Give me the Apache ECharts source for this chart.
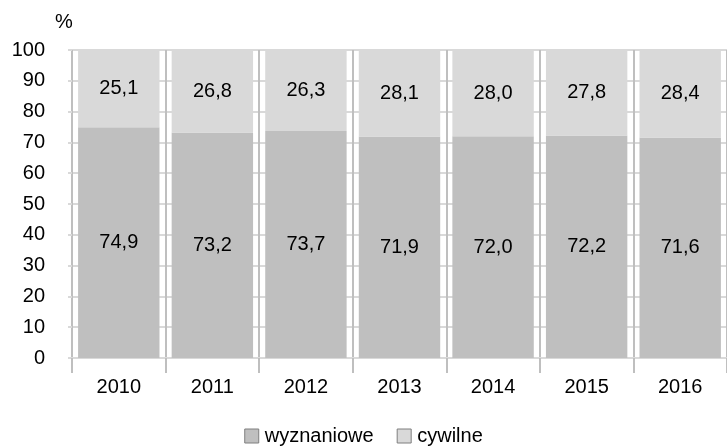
<!DOCTYPE html>
<html>
<head>
<meta charset="utf-8">
<script src="https://cdn.jsdelivr.net/npm/echarts@6/dist/echarts.min.js"></script>
<style>
  html, body { margin: 0; padding: 0; background: #ffffff; }
  #chart { width: 727px; height: 446px; }
</style>
</head>
<body>
<div id="chart"></div>
<script>
// Years shown along the category axis
var years = ['2010', '2011', '2012', '2013', '2014', '2015', '2016'];
// Share of marriages by type of ceremony, in percent
var wyznaniowe = [74.9, 73.2, 73.7, 71.9, 72.0, 72.2, 71.6];
var cywilne = [25.1, 26.8, 26.3, 28.1, 28.0, 27.8, 28.4];
// Value axis ticks
var yMin = 0, yMax = 100, yStep = 10;

var FONT = 'Liberation Sans, Arial, sans-serif';
var FS = 20;
var fmt = function (p) { return p.value.toFixed(1).replace('.', ','); };

var chart = echarts.init(document.getElementById('chart'), null, { renderer: 'canvas' });
chart.setOption({
  animation: false,
  backgroundColor: '#ffffff',
  textStyle: { fontFamily: FONT, color: '#000' },
  grid: { left: 72, top: 50, width: 664, height: 308 },
  legend: {
    top: 426,
    left: 'center',
    padding: 0,
    icon: 'rect',
    itemWidth: 14,
    itemHeight: 14,
    itemGap: 23,
    textStyle: { fontFamily: FONT, fontSize: FS, color: '#000', padding: [0, 0, 0, 1] },
    data: [
      { name: 'wyznaniowe', itemStyle: { borderColor: '#7f7f7f', borderWidth: 1 } },
      { name: 'cywilne', itemStyle: { borderColor: '#7f7f7f', borderWidth: 1 } }
    ]
  },
  graphic: [{
    type: 'text', left: 55, top: 12,
    style: { text: '%', font: FS + 'px ' + FONT, fill: '#000' }
  }],
  xAxis: {
    type: 'category',
    data: years,
    axisLine: { show: true, lineStyle: { color: '#d9d9d9', width: 2 } },
    axisTick: { show: true, length: 15, lineStyle: { color: '#bfbfbf', width: 2 } },
    splitLine: { show: true, lineStyle: { color: '#bfbfbf', width: 2 } },
    axisLabel: { fontFamily: FONT, fontSize: FS, color: '#000', margin: 19 }
  },
  yAxis: {
    type: 'value',
    min: yMin, max: yMax, interval: yStep,
    axisLine: { show: false },
    axisTick: { show: true, inside: false, length: 4, lineStyle: { color: '#d9d9d9', width: 2 } },
    splitLine: { show: true, lineStyle: { color: '#d9d9d9', width: 2 } },
    axisLabel: { fontFamily: FONT, fontSize: FS, color: '#000', margin: 27 }
  },
  series: [
    {
      name: 'wyznaniowe', type: 'bar', stack: 'total',
      data: wyznaniowe, barCategoryGap: '13%',
      itemStyle: { color: '#bfbfbf' },
      label: { show: true, position: 'inside', formatter: fmt, fontFamily: FONT, fontSize: FS, color: '#000' }
    },
    {
      name: 'cywilne', type: 'bar', stack: 'total',
      data: cywilne, barCategoryGap: '13%',
      itemStyle: { color: '#d9d9d9' },
      label: { show: true, position: 'inside', formatter: fmt, fontFamily: FONT, fontSize: FS, color: '#000' }
    }
  ]
});
</script>
</body>
</html>
